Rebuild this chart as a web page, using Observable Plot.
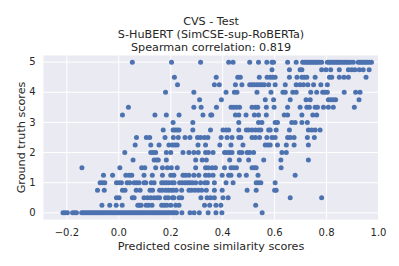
<!DOCTYPE html>
<html>
<head>
<meta charset="utf-8">
<script src="https://cdn.jsdelivr.net/npm/d3@7"></script>
<script src="https://cdn.jsdelivr.net/npm/@observablehq/plot@0.6"></script>
<style>
  html, body { margin: 0; padding: 0; background: #ffffff; }
  #chart svg { display: block; }
</style>
</head>
<body>
<div id="chart"></div>
<script>
// Title lines
const titleLines = ["CVS - Test", "S-HuBERT (SimCSE-sup-RoBERTa)", "Spearman correlation: 0.819"];
const xLabel = "Predicted cosine similarity scores";
const yLabel = "Ground truth scores";
const xTicks = [-0.2, 0.0, 0.2, 0.4, 0.6, 0.8, 1.0];
const yTicks = [0, 1, 2, 3, 4, 5];

// Ground-truth score levels and predicted cosine similarities read for each level
const scoreLevels = [0, 0.25, 0.5, 0.75, 1, 1.25, 1.5, 1.75, 2, 2.25, 2.5, 2.75, 3, 3.25, 3.5, 3.75, 4, 4.25, 4.5, 4.75, 5];

const cos_0_00 = [-0.215, -0.207, -0.198, -0.178, -0.17, -0.163, -0.143, -0.136, -0.129, -0.122, -0.115, -0.108, -0.101, -0.094, -0.087, -0.08, -0.073, -0.066, -0.059, -0.052, -0.045, -0.038, -0.031, -0.024, -0.017, -0.01, -0.003, 0.004, 0.011, 0.018, 0.025, 0.032, 0.039, 0.046, 0.053, 0.06, 0.067, 0.074, 0.081, 0.088, 0.095, 0.102, 0.109, 0.116, 0.123, 0.13, 0.137, 0.144, 0.151, 0.158, 0.165, 0.172, 0.179, 0.186, 0.193, 0.2, 0.207, 0.214, 0.222, 0.243, 0.274, 0.29, 0.31, 0.344, 0.374, 0.397, 0.552];
const cos_0_25 = [-0.065, -0.035, -0.01, 0.013, 0.073, 0.079, 0.086, 0.105, 0.115, 0.128, 0.165, 0.175, 0.185, 0.2, 0.219, 0.232, 0.33, 0.35, 0.374, 0.393, 0.527];
const cos_0_50 = [-0.009, 0.001, 0.052, 0.059, 0.097, 0.11, 0.123, 0.136, 0.148, 0.157, 0.18, 0.19, 0.206, 0.212, 0.232, 0.242, 0.316, 0.34, 0.353, 0.368, 0.401, 0.421, 0.66, 0.781];
const cos_0_75 = [-0.082, -0.056, 0.014, 0.024, 0.067, 0.082, 0.12, 0.13, 0.157, 0.167, 0.18, 0.19, 0.2, 0.209, 0.221, 0.242, 0.27, 0.28, 0.293, 0.306, 0.319, 0.337, 0.368, 0.398, 0.494, 0.529, 0.6, 0.606];
const cos_1_00 = [-0.072, -0.063, -0.054, -0.009, 0.001, 0.01, 0.032, 0.042, 0.059, 0.068, 0.078, 0.097, 0.104, 0.125, 0.136, 0.165, 0.174, 0.183, 0.193, 0.204, 0.213, 0.234, 0.244, 0.255, 0.264, 0.273, 0.283, 0.296, 0.315, 0.332, 0.341, 0.368, 0.413, 0.44, 0.529, 0.538, 0.547, 0.602];
const cos_1_25 = [-0.059, -0.024, 0.027, 0.04, 0.05, 0.097, 0.129, 0.168, 0.2, 0.212, 0.247, 0.257, 0.27, 0.289, 0.308, 0.334, 0.347, 0.363, 0.398, 0.423, 0.432, 0.464, 0.491, 0.536, 0.679];
const cos_1_50 = [-0.142, 0.004, 0.088, 0.1, 0.142, 0.168, 0.187, 0.202, 0.225, 0.296, 0.334, 0.344, 0.359, 0.372, 0.407, 0.432, 0.442, 0.453, 0.513, 0.522, 0.529, 0.625];
const cos_1_75 = [0.055, 0.136, 0.145, 0.152, 0.183, 0.296, 0.321, 0.337, 0.427, 0.464, 0.5, 0.558, 0.624, 0.73];
const cos_2_00 = [0.023, 0.123, 0.132, 0.142, 0.183, 0.2, 0.247, 0.27, 0.289, 0.306, 0.334, 0.345, 0.363, 0.407, 0.417, 0.427, 0.436, 0.464, 0.474, 0.494, 0.504, 0.519, 0.628, 0.645];
const cos_2_25 = [0.063, 0.123, 0.155, 0.193, 0.206, 0.216, 0.225, 0.305, 0.334, 0.389, 0.432, 0.478, 0.564, 0.574, 0.583, 0.611, 0.645, 0.675, 0.73];
const cos_2_50 = [0.068, 0.106, 0.119, 0.178, 0.21, 0.229, 0.255, 0.274, 0.303, 0.315, 0.33, 0.343, 0.394, 0.417, 0.436, 0.462, 0.47, 0.513, 0.526, 0.542, 0.57, 0.59, 0.602, 0.65, 0.66, 0.675, 0.726, 0.753];
const cos_2_75 = [0.171, 0.209, 0.216, 0.224, 0.232, 0.285, 0.353, 0.401, 0.413, 0.423, 0.462, 0.491, 0.5, 0.513, 0.526, 0.538, 0.547, 0.577, 0.583, 0.606, 0.657, 0.73, 0.743, 0.756, 0.775];
const cos_3_00 = [0.209, 0.285, 0.462, 0.538, 0.551, 0.602, 0.611, 0.666, 0.679, 0.705, 0.726];
const cos_3_25 = [0.014, 0.139, 0.183, 0.232, 0.324, 0.354, 0.358, 0.449, 0.462, 0.49, 0.522, 0.538, 0.568, 0.637, 0.65, 0.705, 0.747, 0.762];
const cos_3_50 = [0.037, 0.289, 0.317, 0.376, 0.432, 0.442, 0.453, 0.465, 0.513, 0.526, 0.535, 0.568, 0.598, 0.65, 0.698, 0.724, 0.734, 0.756, 0.765, 0.788, 0.807, 0.826, 0.907];
const cos_3_75 = [0.311, 0.395, 0.564, 0.596, 0.66, 0.721, 0.737, 0.807, 0.817, 0.826, 0.835, 0.925];
const cos_4_00 = [0.18, 0.289, 0.413, 0.445, 0.455, 0.532, 0.586, 0.632, 0.641, 0.67, 0.683, 0.739, 0.762, 0.785, 0.794, 0.803, 0.868, 0.912, 0.929];
const cos_4_25 = [0.226, 0.368, 0.387, 0.449, 0.474, 0.504, 0.513, 0.522, 0.532, 0.542, 0.551, 0.56, 0.577, 0.602, 0.641, 0.683, 0.698, 0.711, 0.728, 0.75, 0.778, 0.803];
const cos_4_50 = [0.214, 0.375, 0.458, 0.468, 0.541, 0.571, 0.583, 0.593, 0.602, 0.657, 0.686, 0.705, 0.714, 0.724, 0.756, 0.811, 0.82, 0.849, 0.867, 0.884, 0.952];
const cos_4_75 = [0.59, 0.657, 0.698, 0.705, 0.781, 0.798, 0.816, 0.849, 0.884, 0.897, 0.909, 0.926, 0.941, 0.964];
const cos_5_00 = [0.052, 0.203, 0.315, 0.423, 0.44, 0.504, 0.538, 0.57, 0.59, 0.596, 0.65, 0.683, 0.708, 0.715, 0.722, 0.729, 0.736, 0.743, 0.75, 0.757, 0.764, 0.772, 0.781, 0.803, 0.81, 0.817, 0.824, 0.831, 0.838, 0.845, 0.852, 0.86, 0.868, 0.876, 0.884, 0.892, 0.903, 0.922, 0.929, 0.936, 0.943, 0.95, 0.957, 0.965, 0.973];

const cosineByLevel = [cos_0_00, cos_0_25, cos_0_50, cos_0_75, cos_1_00, cos_1_25, cos_1_50, cos_1_75, cos_2_00, cos_2_25, cos_2_50, cos_2_75, cos_3_00, cos_3_25, cos_3_50, cos_3_75, cos_4_00, cos_4_25, cos_4_50, cos_4_75, cos_5_00];

// Build table for the library
const points = [];
scoreLevels.forEach((s, i) => cosineByLevel[i].forEach(c => points.push({cos: c, score: s})));

const fmt = d3.format(".1f");
const ink = "#262626";

const chart = Plot.plot({
  width: 399,
  height: 266,
  marginTop: 55,
  marginBottom: 47,
  marginLeft: 43,
  marginRight: 21,
  style: {fontFamily: "'DejaVu Sans', sans-serif", fontSize: "10px", color: ink, background: "#ffffff", overflow: "visible"},
  x: {domain: [-0.29, 1.0]},
  y: {domain: [-0.22, 5.22]},
  marks: [
    Plot.frame({fill: "#EAEAF2", stroke: null}),
    Plot.gridX(xTicks, {stroke: "#ffffff", strokeOpacity: 1, strokeWidth: 1}),
    Plot.gridY(yTicks, {stroke: "#ffffff", strokeOpacity: 1, strokeWidth: 1}),
    Plot.dot(points, {x: "cos", y: "score", r: 2.5, fill: "#4C72B0", stroke: null}),
    Plot.axisX(xTicks, {tickSize: 0, tickPadding: 9.5, tickFormat: fmt, label: null, fontSize: 10, fill: ink}),
    Plot.axisY(yTicks, {tickSize: 0, tickPadding: 8, tickFormat: d3.format("d"), label: null, fontSize: 10, fill: ink}),
    Plot.text([titleLines[0]], {frameAnchor: "top", lineAnchor: "bottom", dy: -31, fontSize: 11.2, fill: ink}),
    Plot.text([titleLines[1]], {frameAnchor: "top", lineAnchor: "bottom", dy: -18, fontSize: 11.2, fill: ink}),
    Plot.text([titleLines[2]], {frameAnchor: "top", lineAnchor: "bottom", dy: -5, fontSize: 11.2, fill: ink}),
    Plot.text([xLabel], {frameAnchor: "bottom", lineAnchor: "bottom", dy: 30, fontSize: 11.2, fill: ink}),
    Plot.text([yLabel], {frameAnchor: "left", textAnchor: "middle", lineAnchor: "bottom", rotate: -90, dx: -19, fontSize: 11.2, fill: ink})
  ]
});
document.getElementById("chart").appendChild(chart);
</script>
</body>
</html>
